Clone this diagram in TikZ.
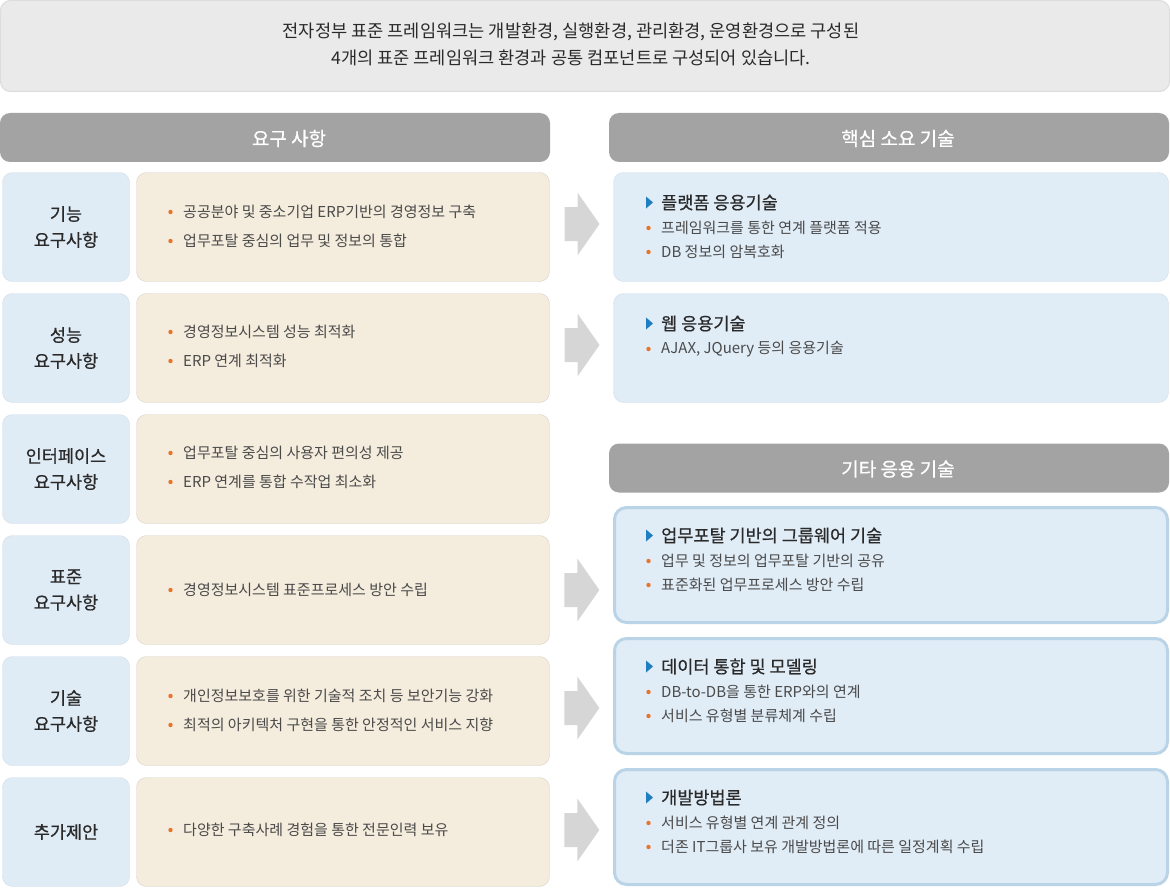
\documentclass[tikz,border=0pt]{standalone}
\usepackage{fontspec}
\setmainfont{Noto Sans CJK KR}
\newfontfamily\krmed[FakeBold=0.6]{Noto Sans CJK KR}
\usetikzlibrary{calc}
\definecolor{bannerfill}{HTML}{EAEAEA}
\definecolor{bannerline}{HTML}{DCDCDC}
\definecolor{hdrfill}{HTML}{A3A3A3}
\definecolor{lfill}{HTML}{DFEBF5}
\definecolor{lline}{HTML}{D2DDE8}
\definecolor{mfill}{HTML}{F4ECDD}
\definecolor{mline}{HTML}{D9D3C9}
\definecolor{rfill}{HTML}{E0ECF6}
\definecolor{rline}{HTML}{D2DEEA}
\definecolor{rline2}{HTML}{B9D3E7}
\definecolor{arrowc}{HTML}{D6D6D6}
\definecolor{orangec}{HTML}{E8732A}
\definecolor{bluec}{HTML}{1F7EC0}
\definecolor{txtdark}{HTML}{2A2A2A}
\definecolor{txtbody}{HTML}{4A4A4A}
\begin{document}
\begin{tikzpicture}[x=1pt,y=-1pt,
  banner/.style={draw=bannerline, fill=bannerfill, rounded corners=10pt, line width=1pt},
  hdr/.style={fill=hdrfill, rounded corners=10pt, minimum height=49pt, inner sep=0pt},
  hdrtext/.style={text=white, font=\krmed\fontsize{19}{21}\selectfont, inner sep=0pt},
  lbox/.style={draw=lline, fill=lfill, rounded corners=10pt, minimum width=127pt, minimum height=109pt, align=center, font=\krmed\fontsize{17.5}{26}\selectfont, text=txtdark, inner sep=0pt},
  mbox/.style={draw=mline, fill=mfill, rounded corners=10pt, minimum width=413pt, minimum height=109pt, inner sep=0pt},
  rbox/.style={draw=rline, fill=rfill, rounded corners=10pt, minimum width=555pt, minimum height=109pt, inner sep=0pt},
  rboxb/.style={draw=rline2, line width=3pt, fill=rfill, rounded corners=12pt, minimum width=553pt, minimum height=115pt, inner sep=0pt},
  body/.style={anchor=west, inner sep=0pt, text=txtbody, font=\fontsize{15}{17}\selectfont},
  ttl/.style={anchor=west, inner sep=0pt, text=txtdark, font=\krmed\fontsize{17.5}{19}\selectfont},
  top/.style={inner sep=0pt, text=txtdark, font=\fontsize{17.6}{19}\selectfont},
  dot/.style={fill=orangec},
  bigarrow/.pic={\fill[arrowc] (-17,-17) -- (-4,-17) -- (-4,-31.5) -- (18,0) -- (-4,31.5) -- (-4,17) -- (-17,17) -- cycle;},
  tri/.pic={\fill[bluec] (-3.5,-6) -- (3.5,0) -- (-3.5,6) -- cycle;}
]
\useasboundingbox (0,0) rectangle (1170,888);

% top banner
\draw[banner] (0.5,0.5) rectangle (1169.5,91.5);
\node[top] (t1) at (571,32) {전자정부 표준 프레임워크는 개발환경, 실행환경, 관리환경, 운영환경으로 구성된};
\node[top] (t2) at (571,57.5) {4개의 표준 프레임워크 환경과 공통 컴포넌트로 구성되어 있습니다.};

% headers
\node[hdr, minimum width=550pt] (h1) at (275,137.5) {};
\node[hdrtext] (h1t) at (289,138.5) {요구 사항};
\node[hdr, minimum width=560pt] (h2) at (889,137.5) {};
\node[hdrtext] (h2t) at (898,138.5) {핵심 소요 기술};
\node[hdr, minimum width=560pt] (h3) at (889,468) {};
\node[hdrtext] (h3t) at (898,469) {기타 응용 기술};

% left labels
\node[lbox] (l1) at (66,227) {기능\\요구사항};
\node[lbox] (l2) at (66,348) {성능\\요구사항};
\node[lbox] (l3) at (66,469) {인터페이스\\요구사항};
\node[lbox] (l4) at (66,590) {표준\\요구사항};
\node[lbox] (l5) at (66,711) {기술\\요구사항};
\node[lbox] (l6) at (66,832) {추가제안};

% middle boxes
\node[mbox] (m1) at (343,227) {};
\node[mbox] (m2) at (343,348) {};
\node[mbox] (m3) at (343,469) {};
\node[mbox] (m4) at (343,590) {};
\node[mbox] (m5) at (343,711) {};
\node[mbox] (m6) at (343,832) {};

\fill[dot] (170.5,212) circle (2.2);
\node[body] (m1a) at (183,212) {공공분야 및 중소기업 ERP기반의 경영정보 구축};
\fill[dot] (170.5,241) circle (2.2);
\node[body] (m1b) at (183,241) {업무포탈 중심의 업무 및 정보의 통합};
\fill[dot] (170.5,332) circle (2.2);
\node[body] (m2a) at (183,332) {경영정보시스템 성능 최적화};
\fill[dot] (170.5,361) circle (2.2);
\node[body] (m2b) at (183,361) {ERP 연계 최적화};
\fill[dot] (170.5,453) circle (2.2);
\node[body] (m3a) at (183,453) {업무포탈 중심의 사용자 편의성 제공};
\fill[dot] (170.5,482) circle (2.2);
\node[body] (m3b) at (183,482) {ERP 연계를 통합 수작업 최소화};
\fill[dot] (170.5,590) circle (2.2);
\node[body] (m4a) at (183,590) {경영정보시스템 표준프로세스 방안 수립};
\fill[dot] (170.5,696) circle (2.2);
\node[body] (m5a) at (183,696) {개인정보보호를 위한 기술적 조치 등 보안기능 강화};
\fill[dot] (170.5,725) circle (2.2);
\node[body] (m5b) at (183,725) {최적의 아키텍처 구현을 통한 안정적인 서비스 지향};
\fill[dot] (170.5,830) circle (2.2);
\node[body] (m6a) at (183,830) {다양한 구축사례 경험을 통한 전문인력 보유};

% right boxes
\node[rbox] (r1) at (891,227) {};
\node[rbox] (r2) at (891,348) {};
\node[rboxb] (r3) at (891,565) {};
\node[rboxb] (r4) at (891,696) {};
\node[rboxb] (r5) at (891,827) {};

\pic at (649.5,202.5) {tri};
\node[ttl] (r1t) at (661,202.5) {플랫폼 응용기술};
\fill[dot] (648.5,228) circle (2.2);
\node[body] (r1a) at (661,228) {프레임워크를 통한 연계 플랫폼 적용};
\fill[dot] (648.5,252) circle (2.2);
\node[body] (r1b) at (661,252) {DB 정보의 암복호화};

\pic at (649.5,323.5) {tri};
\node[ttl] (r2t) at (661,323.5) {웹 응용기술};
\fill[dot] (648.5,349) circle (2.2);
\node[body] (r2a) at (661,349) {AJAX, JQuery 등의 응용기술};

\pic at (649.5,535.5) {tri};
\node[ttl] (r3t) at (661,535.5) {업무포탈 기반의 그룹웨어 기술};
\fill[dot] (648.5,561) circle (2.2);
\node[body] (r3a) at (661,561) {업무 및 정보의 업무포탈 기반의 공유};
\fill[dot] (648.5,585) circle (2.2);
\node[body] (r3b) at (661,585) {표준화된 업무프로세스 방안 수립};

\pic at (649.5,666.5) {tri};
\node[ttl] (r4t) at (661,666.5) {데이터 통합 및 모델링};
\fill[dot] (648.5,692) circle (2.2);
\node[body] (r4a) at (661,692) {DB-to-DB을 통한 ERP와의 연계};
\fill[dot] (648.5,716) circle (2.2);
\node[body] (r4b) at (661,716) {서비스 유형별 분류체계 수립};

\pic at (649.5,797.5) {tri};
\node[ttl] (r5t) at (661,797.5) {개발방법론};
\fill[dot] (648.5,823) circle (2.2);
\node[body] (r5a) at (661,823) {서비스 유형별 연계 관계 정의};
\fill[dot] (648.5,847) circle (2.2);
\node[body] (r5b) at (661,847) {더존 IT그룹사 보유 개발방법론에 따른 일정계획 수립};

% block arrows between middle and right boxes
\pic at ($(m1.east)!0.5!(r1.west)+(0,-3)$) {bigarrow};
\pic at ($(m2.east)!0.5!(r2.west)+(0,-3)$) {bigarrow};
\pic at ($(m4.east)!0.5!(r3.west |- m4.east)$) {bigarrow};
\pic at ($(m5.east)!0.5!(r4.west |- m5.east)+(0,-3)$) {bigarrow};
\pic at ($(m6.east)!0.5!(r5.west |- m6.east)+(0,-2)$) {bigarrow};
\end{tikzpicture}
\end{document}
